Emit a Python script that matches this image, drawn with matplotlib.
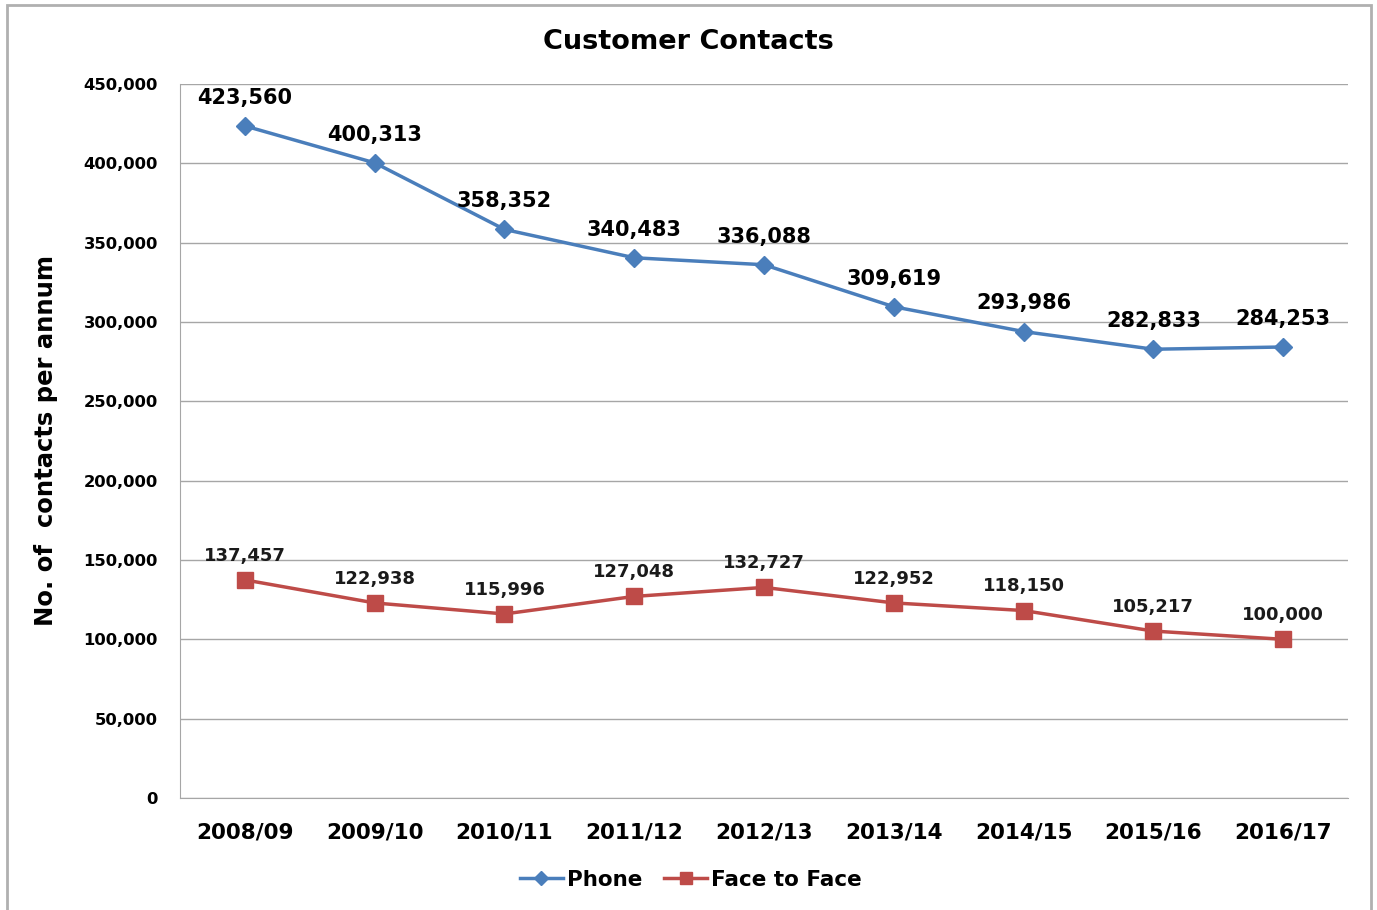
import matplotlib.pyplot as plt
from matplotlib.ticker import FuncFormatter
from matplotlib.patches import Rectangle

plt.rcParams['font.family'] = ['DejaVu Sans']

# ---- data ----
years = ['2008/09', '2009/10', '2010/11', '2011/12', '2012/13',
         '2013/14', '2014/15', '2015/16', '2016/17']
phone = [423560, 400313, 358352, 340483, 336088, 309619, 293986, 282833, 284253]
face_to_face = [137457, 122938, 115996, 127048, 132727, 122952, 118150, 105217, 100000]

BLUE = '#4a7ebb'
RED = '#be4b48'

fig = plt.figure(figsize=(13.77, 9.10), dpi=100)
ax = fig.add_axes([180 / 1377, 1 - 798 / 910, (1348 - 180) / 1377, (798 - 84) / 910])

# outer chart frame
fig.patches.append(Rectangle((7 / 1377, -0.01), (1371 - 7) / 1377, (1 - 5 / 910) + 0.01,
                             transform=fig.transFigure, fill=False,
                             edgecolor='#b0b0b0', linewidth=2))

x = [i + 0.5 for i in range(len(years))]
ax.plot(x, phone, color=BLUE, linewidth=2.5, marker='D', markersize=9, label='Phone')
ax.plot(x, face_to_face, color=RED, linewidth=2.5, marker='s', markersize=11.5,
        label='Face to Face')

for xi, v in zip(x, phone):
    ax.annotate(f'{v:,}', (xi, v), xytext=(0, 13), textcoords='offset points',
                ha='center', va='bottom', fontsize=15, fontweight='bold')
for xi, v in zip(x, face_to_face):
    ax.annotate(f'{v:,}', (xi, v), xytext=(0, 11), textcoords='offset points',
                ha='center', va='bottom', fontsize=13, fontweight='bold',
                color='#1a1a1a')

ax.set_xlim(0, len(years))
ax.set_ylim(0, 450000)
ax.set_yticks(range(0, 450001, 50000))
ax.yaxis.set_major_formatter(FuncFormatter(lambda v, p: f'{int(v):,}'))
ax.set_xticks(x)
ax.set_xticklabels(years)
ax.tick_params(axis='x', length=0, pad=18, labelsize=15.5)
ax.tick_params(axis='y', length=0, pad=16, labelsize=11.8)
for lab in ax.get_xticklabels() + ax.get_yticklabels():
    lab.set_fontweight('bold')

ax.grid(axis='y', color='#a6a6a6', linewidth=1)
ax.set_axisbelow(True)
for s in ['top', 'right']:
    ax.spines[s].set_visible(False)
ax.spines['left'].set_color('#a6a6a6')
ax.spines['bottom'].set_color('#a6a6a6')

fig.text(46 / 1377, 1 - 441 / 910, 'No. of  contacts per annum', rotation=90,
         ha='center', va='center', fontsize=17.5, fontweight='bold')
fig.text(688 / 1377, 1 - 42 / 910, 'Customer Contacts', ha='center', va='center',
         fontsize=19.5, fontweight='bold')

fig.legend(loc='center', bbox_to_anchor=(691 / 1377, 1 - 880 / 910), ncol=2,
           frameon=False, prop={'weight': 'bold', 'size': 15.5}, markerscale=0.8,
           handlelength=2.0, columnspacing=1.0, handletextpad=0.2)

fig.savefig('out.png', dpi=100)
